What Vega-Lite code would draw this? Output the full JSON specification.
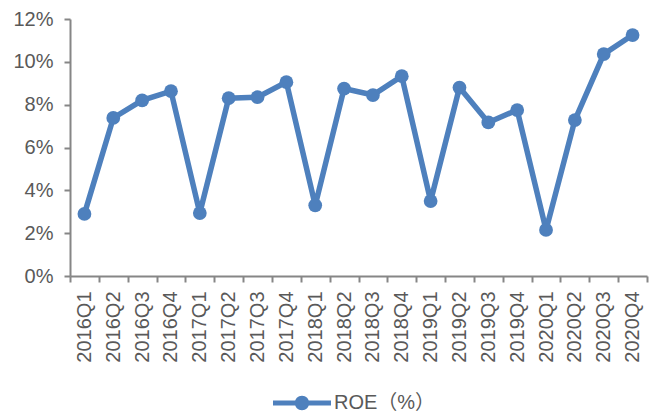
{
  "$schema": "https://vega.github.io/schema/vega-lite/v6.json",
  "autosize": {"type": "none"},
  "padding": {"left": 70, "top": 19, "right": 7, "bottom": 139},
  "width": 577,
  "height": 257,
  "background": "white",
  "config": {
    "view": {"stroke": null},
    "font": "Liberation Sans, Noto Sans CJK SC",
    "axis": {
      "domainColor": "#868686",
      "tickColor": "#868686",
      "domainWidth": 2,
      "tickWidth": 2,
      "tickSize": 6,
      "labelColor": "#595959",
      "labelFont": "Liberation Sans",
      "grid": false,
      "title": null
    }
  },
  "data": {
    "values": [
      {"q": "2016Q1", "roe": 0.0290, "s": "ROE（%）"},
      {"q": "2016Q2", "roe": 0.0738, "s": "ROE（%）"},
      {"q": "2016Q3", "roe": 0.0820, "s": "ROE（%）"},
      {"q": "2016Q4", "roe": 0.0863, "s": "ROE（%）"},
      {"q": "2017Q1", "roe": 0.0294, "s": "ROE（%）"},
      {"q": "2017Q2", "roe": 0.0830, "s": "ROE（%）"},
      {"q": "2017Q3", "roe": 0.0835, "s": "ROE（%）"},
      {"q": "2017Q4", "roe": 0.0905, "s": "ROE（%）"},
      {"q": "2018Q1", "roe": 0.0330, "s": "ROE（%）"},
      {"q": "2018Q2", "roe": 0.0875, "s": "ROE（%）"},
      {"q": "2018Q3", "roe": 0.0845, "s": "ROE（%）"},
      {"q": "2018Q4", "roe": 0.0933, "s": "ROE（%）"},
      {"q": "2019Q1", "roe": 0.0350, "s": "ROE（%）"},
      {"q": "2019Q2", "roe": 0.0880, "s": "ROE（%）"},
      {"q": "2019Q3", "roe": 0.0717, "s": "ROE（%）"},
      {"q": "2019Q4", "roe": 0.0775, "s": "ROE（%）"},
      {"q": "2020Q1", "roe": 0.0215, "s": "ROE（%）"},
      {"q": "2020Q2", "roe": 0.0728, "s": "ROE（%）"},
      {"q": "2020Q3", "roe": 0.1036, "s": "ROE（%）"},
      {"q": "2020Q4", "roe": 0.1125, "s": "ROE（%）"}
    ]
  },
  "encoding": {
    "x": {
      "field": "q",
      "type": "ordinal",
      "sort": null,
      "scale": {"type": "band", "paddingInner": 0, "paddingOuter": 0},
      "axis": {"labelAngle": -90, "tickBand": "extent", "labelFontSize": 20, "labelPadding": 9}
    },
    "y": {
      "field": "roe",
      "type": "quantitative",
      "scale": {"domain": [0, 0.12], "nice": false},
      "axis": {"values": [0, 0.02, 0.04, 0.06, 0.08, 0.1, 0.12], "format": ".0%", "labelFontSize": 20, "labelPadding": 11}
    },
    "color": {
      "field": "s",
      "type": "nominal",
      "scale": {"range": ["#4e80bd"]},
      "legend": {
        "title": null,
        "orient": "none",
        "legendX": 203,
        "legendY": 355,
        "symbolType": "M-1,-0.09L1,-0.09L1,0.09L-1,0.09Z M-0.25,0A0.25,0.25 0 1,1 0.25,0A0.25,0.25 0 1,1 -0.25,0Z",
        "symbolSize": 3364,
        "symbolFillColor": "#4e80bd",
        "symbolStrokeWidth": 0,
        "symbolOpacity": 1,
        "labelFontSize": 20,
        "labelColor": "#595959",
        "labelFont": "Liberation Sans, Noto Sans CJK SC",
        "labelOffset": 3
      }
    }
  },
  "layer": [
    {"mark": {"type": "line", "strokeWidth": 5.5}},
    {"mark": {"type": "point", "filled": true, "size": 190, "opacity": 1}}
  ]
}
